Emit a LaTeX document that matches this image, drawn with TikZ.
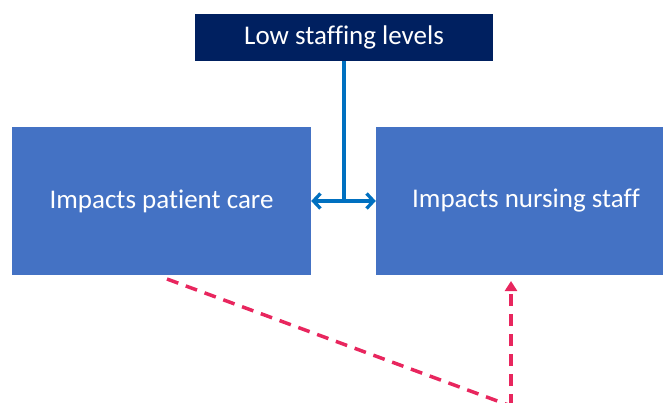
\documentclass[tikz,border=0pt]{standalone}
\usepackage{fontspec}
\setmainfont{Carlito}[Ligatures=NoCommon]
\usetikzlibrary{arrows.meta}
\definecolor{navy}{RGB}{0,32,96}
\definecolor{boxblue}{RGB}{68,114,196}
\definecolor{linkblue}{RGB}{0,112,192}
\definecolor{linkred}{RGB}{232,38,94}
\begin{document}
\begin{tikzpicture}[x=1pt,y=-1pt,
  box/.style={rectangle, inner sep=0pt, text=white, font=\fontsize{27}{32}\selectfont},
  toplink/.style={linkblue, line width=3.3pt},
  sidelink/.style={linkred, line width=3.5pt, dash pattern=on 12pt off 8pt}]
  \useasboundingbox (0,0) rectangle (663,403);
  \clip (0,0) rectangle (663,403);
  \node[box, fill=navy, minimum width=298pt, minimum height=47pt] (low) at (344,37.5) {Low staffing levels};
  \node[box, fill=boxblue, minimum width=299pt, minimum height=148pt] (care) at (161.5,201) {Impacts patient care};
  \node[box, fill=boxblue, minimum width=300pt, minimum height=148pt] (staff) at (526,201) {Impacts nursing staff};
  % vertical drop from the top box meeting the two-way link
  \coordinate (mid) at (344,201);
  \draw[toplink] (low.south) -- (mid);
  \draw[toplink, {Straight Barb[length=7pt,width=15pt]}-{Straight Barb[length=7pt,width=15pt]}] (care.east) -- (staff.west);
  % dashed feedback path running below the frame
  \coordinate (start) at (167,279);
  \coordinate (turn) at (511,406);
  \coordinate (tip) at (511,281);
  \draw[sidelink] (start) -- (turn);
  \draw[sidelink, -{Triangle[length=10pt,width=12pt]}] (turn) -- (tip);
\end{tikzpicture}
\end{document}
